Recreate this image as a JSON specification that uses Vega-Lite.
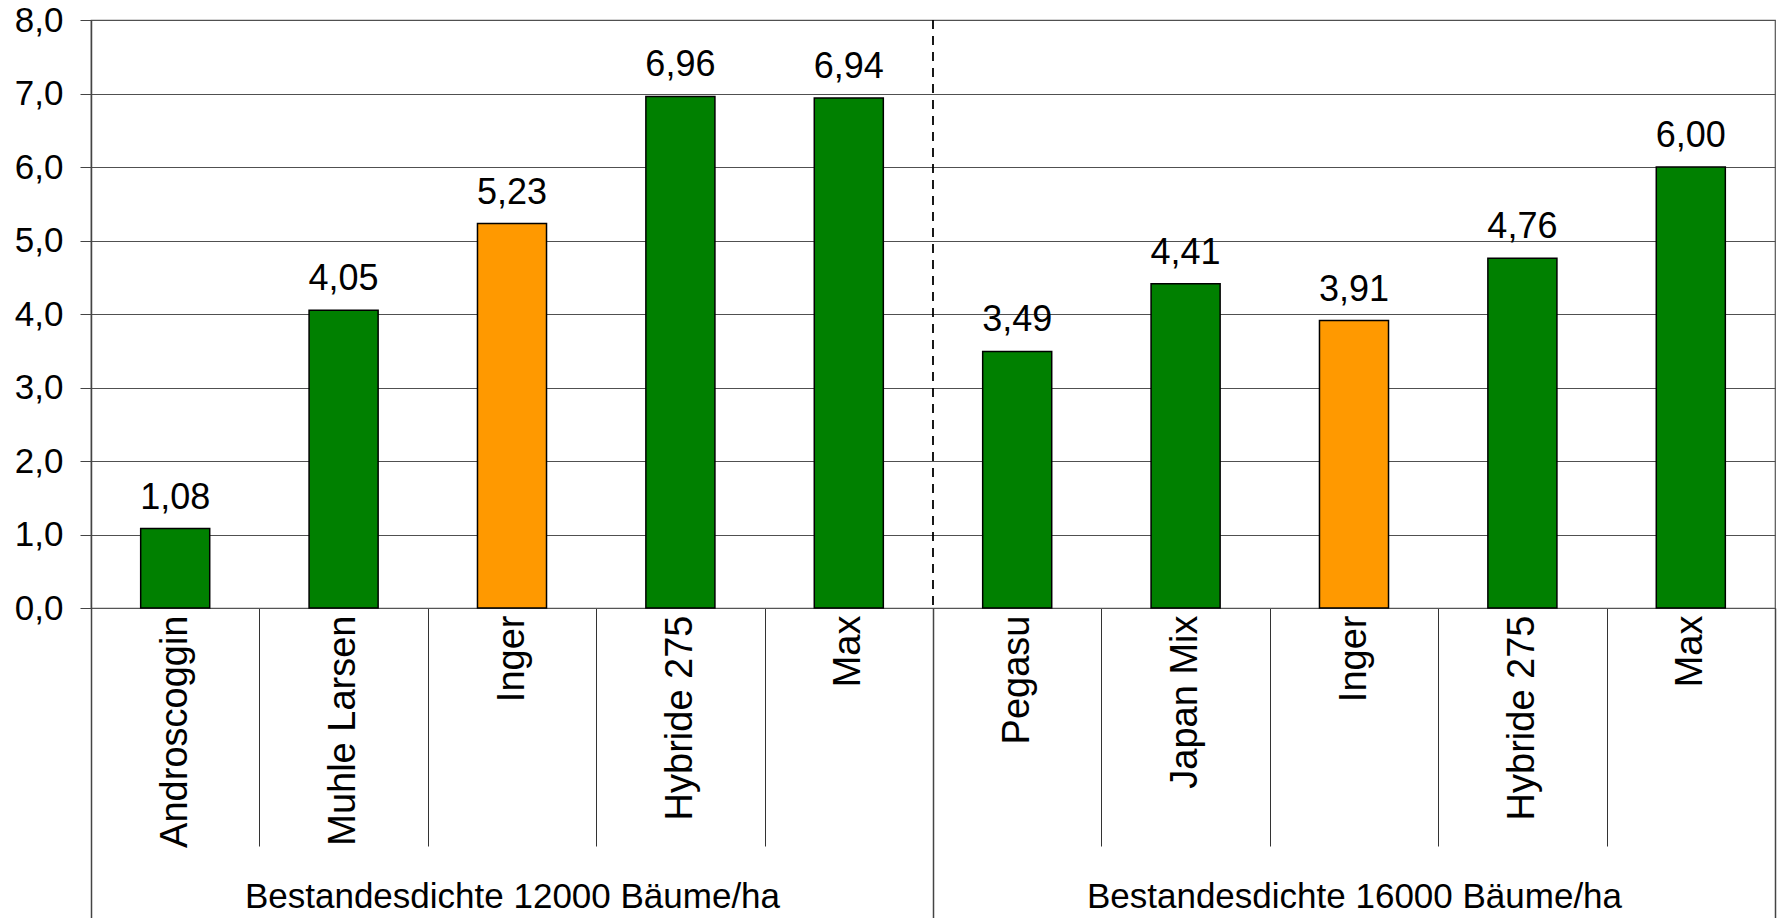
{
  "$schema": "https://vega.github.io/schema/vega-lite/v6.json",
  "width": 1684,
  "height": 588,
  "autosize": {"type": "none"},
  "padding": {"left": 91, "top": 20, "right": 5, "bottom": 310},
  "background": "white",
  "config": {
    "font": "Liberation Sans",
    "view": {"stroke": "#555555", "strokeWidth": 1.2},
    "locale": {"number": {"decimal": ",", "thousands": ".", "grouping": [3], "currency": ["", " €"]}}
  },
  "datasets": {
    "werte": [
      {"kat": "12000 Androscoggin", "sorte": "Androscoggin", "dichte": "Bestandesdichte 12000 Bäume/ha", "wert": 1.08},
      {"kat": "12000 Muhle Larsen", "sorte": "Muhle Larsen", "dichte": "Bestandesdichte 12000 Bäume/ha", "wert": 4.05},
      {"kat": "12000 Inger", "sorte": "Inger", "dichte": "Bestandesdichte 12000 Bäume/ha", "wert": 5.23},
      {"kat": "12000 Hybride 275", "sorte": "Hybride 275", "dichte": "Bestandesdichte 12000 Bäume/ha", "wert": 6.96},
      {"kat": "12000 Max", "sorte": "Max", "dichte": "Bestandesdichte 12000 Bäume/ha", "wert": 6.94},
      {"kat": "16000 Pegasu", "sorte": "Pegasu", "dichte": "Bestandesdichte 16000 Bäume/ha", "wert": 3.49},
      {"kat": "16000 Japan Mix", "sorte": "Japan Mix", "dichte": "Bestandesdichte 16000 Bäume/ha", "wert": 4.41},
      {"kat": "16000 Inger", "sorte": "Inger", "dichte": "Bestandesdichte 16000 Bäume/ha", "wert": 3.91},
      {"kat": "16000 Hybride 275", "sorte": "Hybride 275", "dichte": "Bestandesdichte 16000 Bäume/ha", "wert": 4.76},
      {"kat": "16000 Max", "sorte": "Max", "dichte": "Bestandesdichte 16000 Bäume/ha", "wert": 6.0}
    ],
    "grenze": [
      {"dichte": "Bestandesdichte 16000 Bäume/ha"}
    ]
  },
  "layer": [
    {
      "data": {"name": "werte"},
      "layer": [
        {
          "mark": {"type": "bar", "stroke": "black", "strokeWidth": 1.5, "width": {"band": 0.41}},
          "encoding": {
            "x": {
              "field": "kat", "type": "nominal", "sort": null,
              "scale": {"paddingInner": 0, "paddingOuter": 0},
              "axis": {
                "title": null,
                "orient": "bottom",
                "labelExpr": "substring(datum.label, indexof(datum.label, ' ') + 1)",
                "labelAngle": -90,
                "labelAlign": "right",
                "labelBaseline": "middle",
                "labelFontSize": 38,
                "labelColor": "black",
                "labelLimit": 0,
                "labelOverlap": false,
                "labelPadding": -231,
                "tickBand": "extent",
                "tickSize": 238,
                "tickColor": "#333333",
                "tickWidth": 1,
                "domainColor": "#555555",
                "domainWidth": 1.2,
                "grid": false
              }
            },
            "y": {
              "field": "wert", "type": "quantitative",
              "scale": {"domain": [0, 8], "nice": false},
              "axis": {
                "title": null,
                "values": [0, 1, 2, 3, 4, 5, 6, 7, 8],
                "format": ".1f",
                "labelFontSize": 35,
                "labelColor": "black",
                "labelPadding": 17,
                "tickSize": 11,
                "tickColor": "#444444",
                "domainColor": "#444444",
                "domainWidth": 1.5,
                "grid": true,
                "gridColor": "#505050",
                "gridWidth": 1.2,
                "gridOpacity": 1
              }
            },
            "color": {
              "condition": {"test": "datum.sorte === 'Inger'", "value": "#FF9900"},
              "value": "#008000"
            }
          }
        },
        {
          "mark": {"type": "text", "baseline": "alphabetic", "align": "center", "dy": -20, "fontSize": 36, "color": "black"},
          "encoding": {
            "x": {"field": "kat", "type": "nominal", "sort": null},
            "y": {"field": "wert", "type": "quantitative"},
            "text": {"field": "wert", "type": "quantitative", "format": ".2f"}
          }
        }
      ]
    },
    {
      "data": {"name": "grenze"},
      "mark": {"type": "rule", "color": "black", "strokeWidth": 1.8, "strokeDash": [9, 7]},
      "encoding": {
        "x": {
          "field": "dichte", "type": "nominal", "bandPosition": 0,
          "scale": {"domain": ["Bestandesdichte 12000 Bäume/ha", "Bestandesdichte 16000 Bäume/ha"], "paddingInner": 0, "paddingOuter": 0},
          "axis": {
            "title": null,
            "orient": "bottom",
            "domain": false,
            "labelAngle": 0,
            "labelAlign": "center",
            "labelBaseline": "alphabetic",
            "labelFontSize": 35,
            "labelColor": "black",
            "labelLimit": 0,
            "labelOverlap": false,
            "labelPadding": -13,
            "tickBand": "extent",
            "tickSize": 312,
            "tickColor": "#444444",
            "tickWidth": 1.5,
            "grid": false
          }
        }
      }
    }
  ],
  "resolve": {"scale": {"x": "independent"}, "axis": {"x": "independent"}}
}
